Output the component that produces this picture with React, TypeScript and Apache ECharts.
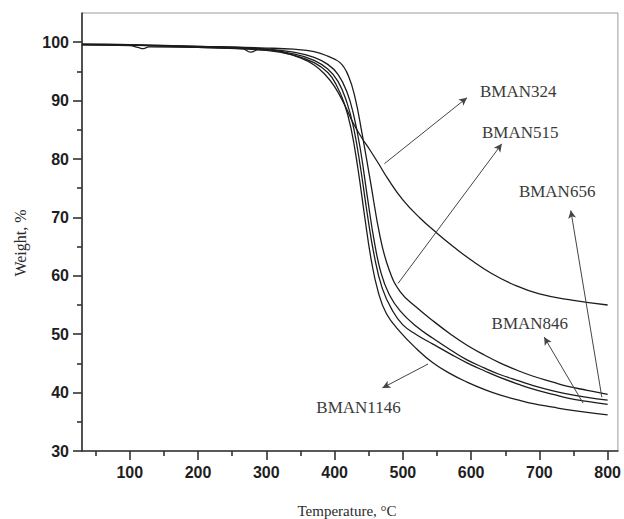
import React, { useEffect, useRef } from "react";
import * as echarts from "echarts";

// ---- data ----
const xMajorTicks = [100, 200, 300, 400, 500, 600, 700, 800];
const xMinorTicks = [50, 150, 250, 350, 450, 550, 650, 750];
const yMajorTicks = [30, 40, 50, 60, 70, 80, 90, 100];
const yMinorTicks = [35, 45, 55, 65, 75, 85, 95];

const bman324T = [30, 100, 200, 280, 320, 350, 370, 385, 400, 415, 427, 440, 452, 465, 477, 500, 525, 550, 575, 600, 630, 660, 700, 750, 800];
const bman324W = [99.7, 99.6, 99.3, 99.0, 98.4, 97.3, 96.1, 94.6, 92.4, 89.2, 86.2, 83.6, 81.5, 79.1, 76.8, 73.0, 69.9, 67.3, 64.9, 62.7, 60.4, 58.6, 56.9, 55.8, 55.0];

const bman515T = [30, 100, 200, 300, 340, 370, 390, 408, 420, 430, 440, 452, 467, 480, 496, 520, 544, 570, 594, 620, 642, 670, 691, 720, 740, 770, 800];
const bman515W = [99.6, 99.5, 99.3, 99.0, 98.8, 98.4, 97.6, 96.5, 94.3, 90.5, 84.5, 76.5, 66.5, 61.0, 57.3, 54.6, 52.3, 50.0, 48.1, 46.4, 45.1, 43.7, 42.8, 41.8, 41.1, 40.4, 39.7];

const bman656T = [30, 100, 200, 300, 340, 370, 390, 405, 418, 428, 438, 448, 458, 468, 480, 496, 520, 544, 570, 594, 620, 642, 670, 691, 720, 740, 770, 800];
const bman656W = [99.6, 99.5, 99.2, 98.8, 98.3, 97.4, 96.2, 94.5, 91.5, 87.5, 81.5, 73.5, 66.0, 60.5, 56.8, 54.0, 51.3, 49.3, 47.3, 45.6, 44.2, 43.1, 42.0, 41.2, 40.3, 39.8, 39.2, 38.7];

const bman846T = [30, 100, 200, 265, 277, 290, 340, 370, 390, 405, 418, 428, 438, 448, 458, 470, 485, 500, 520, 544, 570, 594, 620, 642, 670, 691, 720, 740, 770, 800];
const bman846W = [99.6, 99.5, 99.1, 98.9, 98.3, 98.8, 98.0, 96.9, 95.4, 93.3, 89.7, 85.3, 78.5, 70.5, 63.5, 57.8, 54.0, 51.6, 49.9, 48.3, 46.6, 45.1, 43.7, 42.6, 41.4, 40.6, 39.7, 39.1, 38.5, 38.0];

const bman1146T = [30, 100, 112, 120, 128, 200, 300, 340, 370, 390, 402, 414, 424, 434, 444, 454, 464, 476, 496, 520, 544, 570, 594, 620, 642, 670, 691, 720, 740, 770, 800];
const bman1146W = [99.6, 99.4, 99.1, 98.9, 99.2, 99.1, 98.6, 97.8, 96.5, 94.8, 92.8, 89.6, 85.3, 78.5, 70.2, 62.5, 57.2, 53.5, 50.4, 47.5, 45.1, 43.2, 41.8, 40.5, 39.6, 38.7, 38.1, 37.5, 37.1, 36.6, 36.2];

const seriesNames = ["BMAN324", "BMAN515", "BMAN656", "BMAN846", "BMAN1146"];

// annotation labels: centre in data units
const labelNames = ["BMAN324", "BMAN515", "BMAN656", "BMAN846", "BMAN1146"];
const labelT = [669, 672, 726, 686, 435];
const labelW = [91.5, 84.5, 74.4, 51.9, 37.5];

// arrows: from (T,W) on curve to (T,W) near label
const arrowFromT = [473, 493, 791.5, 764, 537];
const arrowFromW = [79.2, 58.7, 39.2, 38.2, 44.9];
const arrowToT = [594, 645, 746, 707, 470];
const arrowToW = [90.5, 82.6, 71.2, 49.5, 40.8];

const zip = (a: number[], b: number[]) => a.map((v, i) => [v, b[i]]);

export default function App() {
  const ref = useRef<HTMLDivElement>(null);

  useEffect(() => {
    document.body.style.margin = "0";
    if (!ref.current) return;
    const chart = echarts.init(ref.current, undefined, { renderer: "svg" });

    const gridRect = { left: 82, right: 6, top: 13, bottom: 68 };
    const xMin = 30, xMax = 815, yMin = 30, yMax = 105;
    const labelFont = {
      fontFamily: "'Liberation Sans', Arial, sans-serif",
      fontWeight: "bold" as const,
      fontSize: 16,
      color: "#1e1e1e",
    };
    const axisLineStyle = { color: "#333", width: 1.6 };

    const curves = [
      zip(bman324T, bman324W),
      zip(bman515T, bman515W),
      zip(bman656T, bman656W),
      zip(bman846T, bman846W),
      zip(bman1146T, bman1146W),
    ];

    const option: any = {
      animation: false,
      backgroundColor: "#ffffff",
      grid: [
        { ...gridRect, show: true, borderColor: "#9a9a9a", borderWidth: 1, backgroundColor: "transparent" },
        { ...gridRect, show: false },
      ],
      xAxis: [
        {
          type: "value",
          gridIndex: 0,
          min: xMin,
          max: xMax,
          position: "bottom",
          axisLine: { show: true, onZero: false, lineStyle: axisLineStyle },
          axisTick: { show: true, length: 9, customValues: xMajorTicks, lineStyle: axisLineStyle },
          axisLabel: { show: true, customValues: xMajorTicks, margin: 13, ...labelFont },
          splitLine: { show: false },
        },
        {
          type: "value",
          gridIndex: 1,
          min: xMin,
          max: xMax,
          position: "bottom",
          axisLine: { show: false },
          axisTick: { show: true, length: 5, customValues: xMinorTicks, lineStyle: axisLineStyle },
          axisLabel: { show: false },
          splitLine: { show: false },
        },
      ],
      yAxis: [
        {
          type: "value",
          gridIndex: 0,
          min: yMin,
          max: yMax,
          position: "left",
          axisLine: { show: true, onZero: false, lineStyle: axisLineStyle },
          axisTick: { show: true, length: 9, customValues: yMajorTicks, lineStyle: axisLineStyle },
          axisLabel: { show: true, customValues: yMajorTicks, margin: 13, ...labelFont },
          splitLine: { show: false },
        },
        {
          type: "value",
          gridIndex: 1,
          min: yMin,
          max: yMax,
          position: "left",
          axisLine: { show: false },
          axisTick: { show: true, length: 5, customValues: yMinorTicks, lineStyle: axisLineStyle },
          axisLabel: { show: false },
          splitLine: { show: false },
        },
      ],
      series: [
        ...curves.map((d, i) => ({
          name: seriesNames[i],
          type: "line",
          xAxisIndex: 0,
          yAxisIndex: 0,
          data: d,
          showSymbol: false,
          smooth: 0.45,
          lineStyle: { color: "#1c1c1c", width: 1.3 },
          silent: true,
        })),
        {
          name: "arrows",
          type: "line",
          xAxisIndex: 0,
          yAxisIndex: 0,
          data: [],
          silent: true,
          markLine: {
            silent: true,
            symbol: ["none", "arrow"],
            symbolSize: [6, 8],
            label: { show: false },
            lineStyle: { color: "#444", width: 1, type: "solid" },
            emphasis: { disabled: true },
            data: arrowFromT.map((t, i) => [
              { coord: [t, arrowFromW[i]] },
              { coord: [arrowToT[i], arrowToW[i]] },
            ]),
          },
        },
      ],
      graphic: [
        {
          type: "text",
          x: 347,
          y: 511,
          style: {
            text: "Temperature, °C",
            fontFamily: "'Liberation Serif', 'Times New Roman', serif",
            fontSize: 15,
            fill: "#2a2a2a",
            textAlign: "center",
            textVerticalAlign: "middle",
          },
        },
        {
          type: "text",
          x: 20,
          y: 243,
          rotation: Math.PI / 2,
          style: {
            text: "Weight, %",
            fontFamily: "'Liberation Serif', 'Times New Roman', serif",
            fontSize: 16,
            fill: "#2a2a2a",
            textAlign: "center",
            textVerticalAlign: "middle",
          },
        },
      ],
    };

    chart.setOption(option);

    const labelGraphics = labelNames.map((name, i) => {
      const p = chart.convertToPixel({ gridIndex: 0 }, [labelT[i], labelW[i]]) as number[];
      return {
        type: "text",
        x: p[0],
        y: p[1],
        style: {
          text: name,
          fontFamily: "'Liberation Serif', 'Times New Roman', serif",
          fontSize: 17,
          fill: "#3a3a3a",
          textAlign: "center",
          textVerticalAlign: "middle",
        },
      };
    });
    chart.setOption({ graphic: [...option.graphic, ...labelGraphics] });

    return () => {
      chart.dispose();
    };
  }, []);

  return <div ref={ref} style={{ width: 624, height: 519 }} />;
}
